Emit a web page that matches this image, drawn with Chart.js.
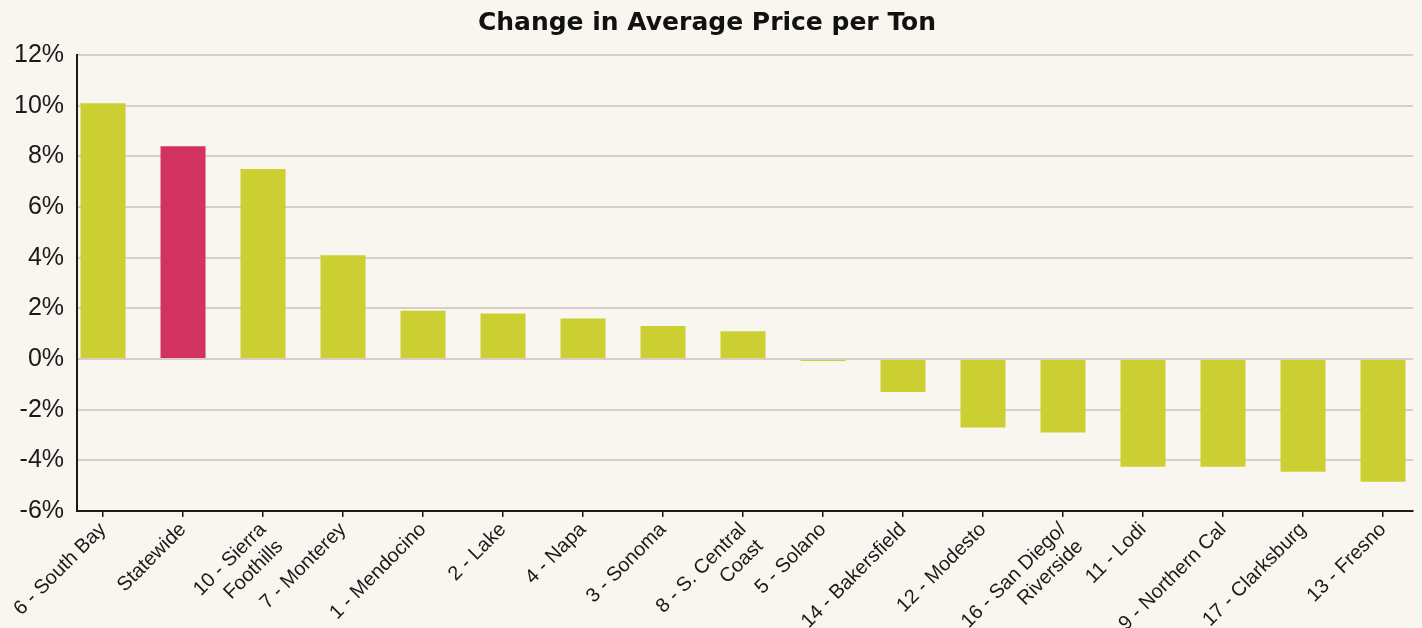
<!DOCTYPE html>
<html>
<head>
<meta charset="utf-8">
<script src="https://cdn.jsdelivr.net/npm/chart.js@4"></script>
<style>
  html, body { margin: 0; padding: 0; background: #f9f5ef; }
  #wrap { width: 1422px; height: 628px; }
</style>
</head>
<body>
<div id="wrap"><canvas id="priceChart"></canvas></div>
<script>
// regions, sorted by change
const categories = [
  ['6 - South Bay'], ['Statewide'], ['10 - Sierra', 'Foothills'], ['7 - Monterey'],
  ['1 - Mendocino'], ['2 - Lake'], ['4 - Napa'], ['3 - Sonoma'],
  ['8 - S. Central', 'Coast'], ['5 - Solano'], ['14 - Bakersfield'], ['12 - Modesto'],
  ['16 - San Diego/', 'Riverside'], ['11 - Lodi'], ['9 - Northern Cal'], ['17 - Clarksburg'],
  ['13 - Fresno']
];
const changePct = [10.1, 8.4, 7.5, 4.1, 1.9, 1.8, 1.6, 1.3, 1.1, -0.08, -1.3, -2.7, -2.9, -4.25, -4.25, -4.45, -4.85];
const yTicks = [-6, -4, -2, 0, 2, 4, 6, 8, 10, 12];

const barColor = '#cbcf31';
const stateColor = '#d2325f';
const fontFamily = '"Liberation Sans", Arial, sans-serif';

const points = changePct.map((v, i) => ({ x: i, y: v }));
const barColors = categories.map(c => c[0] === 'Statewide' ? stateColor : barColor);

const ctx = document.getElementById('priceChart').getContext('2d');
const chart = new Chart(ctx, {
  type: 'bar',
  data: {
    datasets: [{
      label: 'Change in Average Price per Ton',
      data: points,
      backgroundColor: barColors,
      borderWidth: 0,
      categoryPercentage: 1,
      barPercentage: 0.5625
    }]
  },
  options: {
    responsive: true,
    maintainAspectRatio: false,
    animation: false,
    layout: { padding: { left: 1, right: 9, top: 0, bottom: 0 } },
    plugins: {
      legend: { display: false },
      tooltip: { enabled: false },
      title: {
        display: true,
        text: 'Change in Average Price per Ton',
        color: '#111',
        font: { family: '"DejaVu Sans", sans-serif', size: 25, weight: 'bold' },
        padding: { top: 8, bottom: 17 }
      }
    },
    scales: {
      x: {
        type: 'linear',
        min: -0.325,
        max: 16.375,
        offset: false,
        afterFit: (scale) => { scale.height = 117; },
        border: { display: true, color: '#1a1a1a', width: 2 },
        grid: { offset: false, drawOnChartArea: false, drawTicks: true, tickLength: 6, color: '#1a1a1a', lineWidth: 1.5 },
        ticks: {
          stepSize: 1,
          includeBounds: false,
          autoSkip: false,
          maxRotation: 45,
          minRotation: 45,
          color: '#1a1a1a',
          padding: 1,
          font: { family: fontFamily, size: 20 },
          callback: (v) => categories[v]
        }
      },
      y: {
        min: -6,
        max: 12,
        border: { display: true, color: '#1a1a1a', width: 2 },
        grid: { color: '#d5cfc7', lineWidth: 2, drawTicks: false },
        afterBuildTicks: (scale) => { scale.ticks = yTicks.map(v => ({ value: v })); },
        ticks: {
          color: '#1a1a1a',
          padding: 13,
          font: { family: fontFamily, size: 25 },
          callback: (v) => v + '%'
        }
      }
    }
  }
});
</script>
</body>
</html>
